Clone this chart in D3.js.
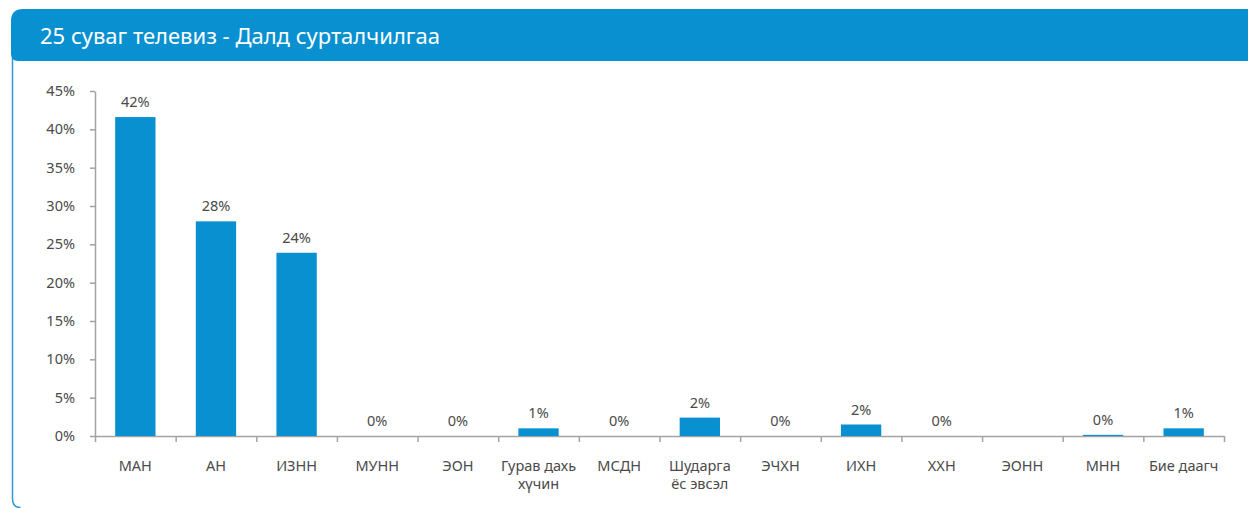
<!DOCTYPE html>
<html>
<head>
<meta charset="utf-8">
<script src="https://cdn.jsdelivr.net/npm/d3@7"></script>
<style>
    html, body { margin: 0; padding: 0; background: #fff; }
    svg { display: block; font-family: "Noto Sans", "DejaVu Sans", sans-serif; }
</style>
</head>
<body>
<div id="chart"></div>
<script>
// chart data
var title = "25 суваг телевиз - Далд сурталчилгаа";
var categories = ["МАН", "АН", "ИЗНН", "МУНН", "ЭОН", "Гурав дахь|хүчин", "МСДН",
    "Шударга|ёс эвсэл", "ЭЧХН", "ИХН", "ХХН", "ЭОНН", "МНН", "Бие даагч"];
var shares = [41.6, 28.0, 23.9, 0, 0, 1.0, 0, 2.4, 0, 1.5, 0, null, 0.15, 1.0];
var yTicks = [0, 5, 10, 15, 20, 25, 30, 35, 40, 45];

var W = 1248, H = 508;
var BLUE = "#0890d0", AXIS = "#a3a3a3", TEXT = "#4a4a4a";

var svg = d3.select("#chart").append("svg")
    .attr("width", W)
    .attr("height", H);

// panel frame: header bar + thin left border
svg.append("path")
    .attr("d", "M20.5,507.5 Q12.5,507.5 12.5,499 L12.5,58")
    .attr("fill", "none")
    .attr("stroke", "#2d9bd6")
    .attr("stroke-width", 1.5);

svg.append("path")
    .attr("d", "M11,21 Q11,9 23,9 L1248,9 L1248,61 L18,61 Q11,61 11,54 Z")
    .attr("fill", BLUE);

svg.append("text")
    .attr("x", 40)
    .attr("y", 44)
    .attr("fill", "#fff")
    .attr("font-size", 22)
    .text(title);

// scales
var x = d3.scaleBand()
    .domain(categories)
    .range([95, 1224])
    .paddingInner(0.5)
    .paddingOuter(0.25);

var xEdge = d3.scaleLinear()
    .domain([0, categories.length])
    .range([95, 1224]);

var y = d3.scaleLinear()
    .domain([0, 45])
    .range([436, 91]);

// y axis
var yAxis = svg.append("g")
    .attr("transform", "translate(95,0)")
    .call(d3.axisLeft(y)
        .tickValues(yTicks)
        .tickSize(5)
        .tickSizeOuter(0)
        .tickPadding(15)
        .tickFormat(function (d) { return d + "%"; }));

// x axis: ticks sit on the category edges
var xAxis = svg.append("g")
    .attr("transform", "translate(0,436)")
    .call(d3.axisBottom(xEdge)
        .tickValues(d3.range(categories.length + 1))
        .tickSize(6)
        .tickSizeOuter(0)
        .tickFormat(""));

svg.selectAll(".domain, .tick line")
    .attr("stroke", AXIS)
    .attr("stroke-width", 1.5);
yAxis.attr("font-family", null).attr("font-size", 14.5);
yAxis.selectAll("text")
    .attr("fill", TEXT);

// bars
var items = categories.map(function (c, i) { return { name: c, value: shares[i] }; });

svg.append("g").selectAll("rect")
    .data(items.filter(function (d) { return d.value; }))
    .join("rect")
    .attr("x", function (d) { return x(d.name); })
    .attr("width", x.bandwidth())
    .attr("y", function (d) { return y(d.value); })
    .attr("height", function (d) { return y(0) - y(d.value); })
    .attr("fill", BLUE);

// value labels
var fmt = d3.format(".0f");
svg.append("g").selectAll("text")
    .data(items.filter(function (d) { return d.value !== null; }))
    .join("text")
    .attr("x", function (d) { return x(d.name) + x.bandwidth() / 2; })
    .attr("y", function (d) { return y(d.value) - 10; })
    .attr("text-anchor", "middle")
    .attr("fill", TEXT)
    .attr("font-size", 14.5)
    .text(function (d) { return fmt(d.value) + "%"; });

// category labels, split on "|"
var catLabels = svg.append("g").selectAll("text")
    .data(categories)
    .join("text")
    .attr("x", function (d) { return x(d) + x.bandwidth() / 2; })
    .attr("y", 471)
    .attr("text-anchor", "middle")
    .attr("fill", TEXT)
    .attr("font-size", 14.5);

catLabels.selectAll("tspan")
    .data(function (d) { return d.split("|"); })
    .join("tspan")
    .attr("x", function () { return d3.select(this.parentNode).attr("x"); })
    .attr("dy", function (d, i) { return i ? 18 : 0; })
    .text(function (d) { return d; });
</script>
</body>
</html>
